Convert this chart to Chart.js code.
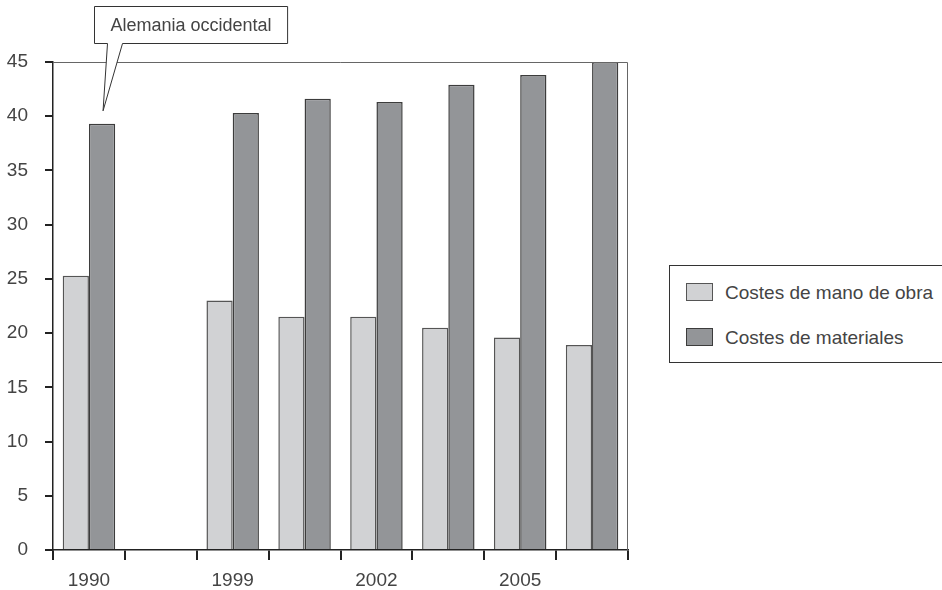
<!DOCTYPE html>
<html>
<head>
<meta charset="utf-8">
<script src="https://cdn.jsdelivr.net/npm/chart.js@4/dist/chart.umd.min.js"></script>
<style>
    html, body { margin: 0; padding: 0; background: #fff; }
    #wrap { position: relative; width: 942px; height: 590px; }
    #legend {
        position: absolute; left: 669px; top: 265px; width: 290px; height: 96px;
        border: 1px solid #333; background: #fff;
        font-family: "Liberation Sans", Arial, sans-serif; font-size: 19px; color: #444;
    }
    .item { position: absolute; left: 16px; height: 20px; line-height: 19px; white-space: nowrap; }
    .sw { display: inline-block; width: 27px; height: 18px; vertical-align: top; margin-right: 12px; box-sizing: border-box; }
</style>
</head>
<body>
<div id="wrap">
    <canvas id="chart" width="942" height="590"></canvas>
    <div id="legend"></div>
</div>
<script>
// Datos del gráfico
const categorias = ['1990', '', '1999', '', '2002', '', '2005', ''];
const costesManoObra = [25.3, null, 23.0, 21.5, 21.5, 20.5, 19.6, 18.9];
const costesMateriales = [39.3, null, 40.3, 41.6, 41.3, 42.9, 43.8, 45.0];
const nombresSeries = ['Costes de mano de obra', 'Costes de materiales'];
const ticksY = [0, 5, 10, 15, 20, 25, 30, 35, 40, 45];
const nota = 'Alemania occidental';

const FUENTE = '"Liberation Sans", Arial, sans-serif';
const colores = ['#d1d2d4', '#939598'];
const bordes = ['#555555', '#3c3c3c'];

// Marco superior y derecho del área del gráfico
const marco = {
    id: 'marco',
    afterDatasetsDraw(chart) {
        const { ctx, chartArea: a } = chart;
        ctx.save();
        ctx.strokeStyle = '#666';
        ctx.lineWidth = 1;
        ctx.beginPath();
        ctx.moveTo(a.left, a.top + 0.5);
        ctx.lineTo(a.right - 0.5, a.top + 0.5);
        ctx.lineTo(a.right - 0.5, a.bottom);
        ctx.stroke();
        ctx.restore();
    }
};

// Globo de texto que señala la barra de 1990
const globo = {
    id: 'globo',
    afterDraw(chart) {
        const bar = chart.getDatasetMeta(1).data[0];
        if (!bar) return;
        const { ctx } = chart;
        const tipX = bar.x + 1, tipY = bar.y - 13;
        ctx.save();
        ctx.font = '18px ' + FUENTE;
        const w = ctx.measureText(nota).width + 32;
        const left = Math.round(tipX - 9) + 0.5, top = 6.5, h = 37;
        ctx.fillStyle = '#fff';
        ctx.strokeStyle = '#333';
        ctx.lineWidth = 1;
        ctx.beginPath();
        ctx.moveTo(left, top);
        ctx.lineTo(left + w, top);
        ctx.lineTo(left + w, top + h);
        ctx.lineTo(left + 28, top + h);
        ctx.lineTo(tipX, tipY);
        ctx.lineTo(left + 13, top + h);
        ctx.lineTo(left, top + h);
        ctx.closePath();
        ctx.fill();
        ctx.stroke();
        ctx.fillStyle = '#444';
        ctx.textAlign = 'center';
        ctx.textBaseline = 'middle';
        ctx.fillText(nota, left + w / 2, top + h / 2 + 1);
        ctx.restore();
    }
};

const chart = new Chart(document.getElementById('chart'), {
    type: 'bar',
    data: {
        labels: categorias,
        datasets: [
            {
                label: nombresSeries[0],
                data: costesManoObra,
                backgroundColor: colores[0],
                borderColor: bordes[0],
                borderWidth: 1.5
            },
            {
                label: nombresSeries[1],
                data: costesMateriales,
                backgroundColor: colores[1],
                borderColor: bordes[1],
                borderWidth: 1.5
            }
        ]
    },
    options: {
        responsive: false,
        animation: false,
        layout: { padding: { top: 62, right: 314, left: 0, bottom: 0 } },
        datasets: { bar: { categoryPercentage: 0.73, barPercentage: 1 } },
        plugins: { legend: { display: false }, tooltip: { enabled: false } },
        scales: {
            x: {
                grid: { display: true, drawOnChartArea: false, offset: true, tickLength: 10, color: '#222', lineWidth: 2 },
                border: { color: '#222', width: 1.5 },
                ticks: { color: '#444', padding: 9, maxRotation: 0, autoSkip: false, font: { family: FUENTE, size: 19 } },
                afterFit(s) { s.height = 40; }
            },
            y: {
                min: 0,
                max: 45,
                afterBuildTicks(s) { s.ticks = ticksY.map(v => ({ value: v })); },
                grid: { drawOnChartArea: false, tickLength: 8, color: '#222', lineWidth: 2 },
                border: { color: '#222', width: 1.5 },
                ticks: { color: '#444', padding: 17, font: { family: FUENTE, size: 19 } },
                afterFit(s) { s.width = 53; }
            }
        }
    },
    plugins: [marco, globo]
});

// Leyenda en HTML a partir de los datasets
const leyenda = document.getElementById('legend');
chart.data.datasets.forEach((ds, i) => {
    const item = document.createElement('div');
    item.className = 'item';
    item.style.top = (17 + i * 45) + 'px';
    item.innerHTML = '<span class="sw" style="background:' + ds.backgroundColor +
        ';border:1px solid ' + ds.borderColor + '"></span>' + ds.label;
    leyenda.appendChild(item);
});
</script>
</body>
</html>
